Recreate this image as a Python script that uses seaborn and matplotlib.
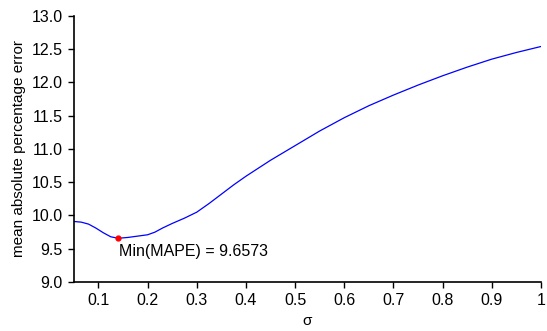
import pandas as pd
import seaborn as sns
import matplotlib.pyplot as plt
from matplotlib.ticker import FuncFormatter

# values
sigma = [0.05, 0.065, 0.08, 0.095, 0.11, 0.125, 0.14, 0.16, 0.18, 0.2, 0.215,
         0.23, 0.25, 0.275, 0.3, 0.325, 0.35, 0.375, 0.4, 0.45, 0.5, 0.55,
         0.6, 0.65, 0.7, 0.75, 0.8, 0.85, 0.9, 0.95, 1.0]
mape = [9.91, 9.90, 9.87, 9.81, 9.74, 9.68, 9.6573, 9.67, 9.69, 9.71, 9.75,
        9.81, 9.88, 9.96, 10.05, 10.18, 10.32, 10.46, 10.59, 10.83, 11.05, 11.27,
        11.47, 11.65, 11.81, 11.96, 12.10, 12.23, 12.35, 12.45, 12.54]
min_sigma = 0.14
min_mape = 9.6573
x_ticks = [0.1, 0.2, 0.3, 0.4, 0.5, 0.6, 0.7, 0.8, 0.9, 1.0]
y_ticks = [9.0, 9.5, 10.0, 10.5, 11.0, 11.5, 12.0, 12.5, 13.0]

df = pd.DataFrame({'sigma': sigma, 'mape': mape})

sns.set_style('ticks')
plt.rcParams['font.family'] = ['Liberation Sans', 'DejaVu Sans']
plt.rcParams['text.color'] = 'black'
plt.rcParams['axes.labelcolor'] = 'black'

fig = plt.figure(figsize=(5.47, 3.31), dpi=100)
ax = fig.add_axes([0.135, 0.148, 0.854, 0.804])

sns.lineplot(x='sigma', y='mape', data=df, color='#0000ff', linewidth=0.9, ax=ax)
ax.plot([min_sigma], [min_mape], 'o', color='#ff0000', markersize=3.5, zorder=5)
ax.annotate('Min(MAPE) = %.4f' % min_mape, xy=(min_sigma, min_mape),
            xytext=(1, -4), textcoords='offset points', ha='left', va='top',
            fontsize=11.5)

ax.set_xlim(0.05, 1.0)
ax.set_ylim(9.0, 13.0)
ax.set_xticks(x_ticks)
ax.set_yticks(y_ticks)
ax.xaxis.set_major_formatter(FuncFormatter(lambda v, p: '1' if v == 1 else '%.1f' % v))
ax.yaxis.set_major_formatter(FuncFormatter(lambda v, p: '%.1f' % v))
ax.tick_params(labelsize=11.5, length=4, width=1, colors='black', pad=4)
ax.set_xlabel('σ', fontsize=11)
ax.set_ylabel('mean absolute percentage error', fontsize=11)
for s in ['left', 'bottom']:
    ax.spines[s].set_color('black')
    ax.spines[s].set_linewidth(1.2)
sns.despine(ax=ax)

fig.savefig('out.png', dpi=100)
